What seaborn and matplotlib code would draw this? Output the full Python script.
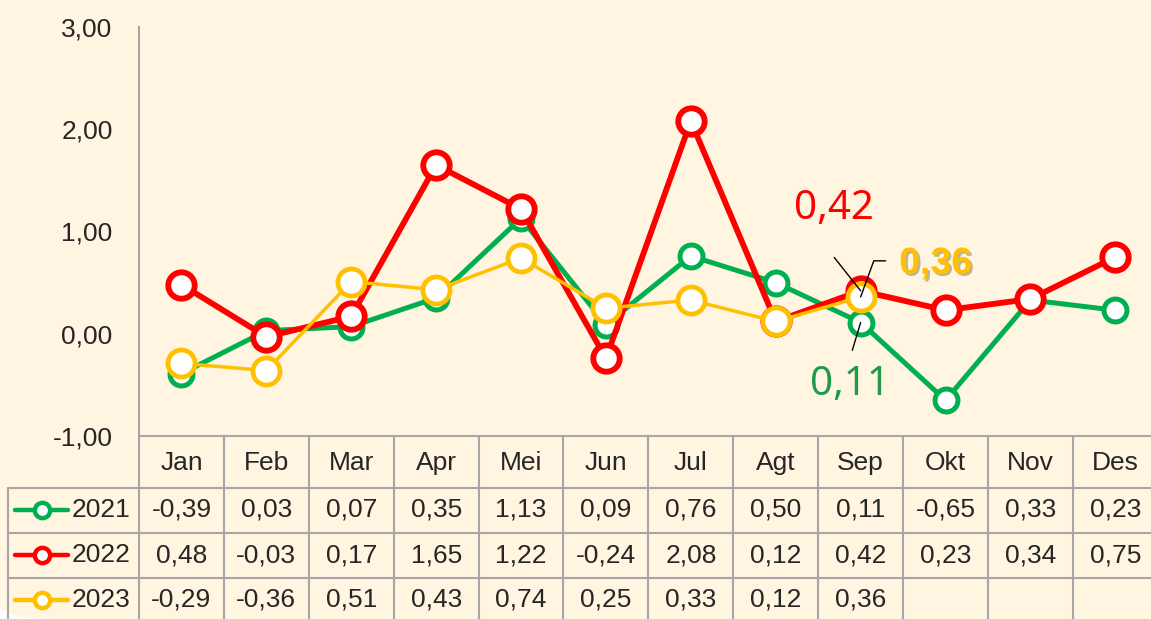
import numpy as np
import pandas as pd
import matplotlib
matplotlib.use('Agg')
import matplotlib.pyplot as plt
import matplotlib.patheffects as pe
from matplotlib.patches import FancyBboxPatch
import seaborn as sns

# data
months = ['Jan', 'Feb', 'Mar', 'Apr', 'Mei', 'Jun', 'Jul', 'Agt', 'Sep', 'Okt', 'Nov', 'Des']
years = ['2021', '2022', '2023']
y2021 = [-0.39, 0.03, 0.07, 0.35, 1.13, 0.09, 0.76, 0.50, 0.11, -0.65, 0.33, 0.23]
y2022 = [0.48, -0.03, 0.17, 1.65, 1.22, -0.24, 2.08, 0.12, 0.42, 0.23, 0.34, 0.75]
y2023 = [-0.29, -0.36, 0.51, 0.43, 0.74, 0.25, 0.33, 0.12, 0.36, np.nan, np.nan, np.nan]
yticks = [-1, 0, 1, 2, 3]

colors = {'2021': '#00B050', '2022': '#FF0000', '2023': '#FFC000'}
styles = {'2021': dict(lw=3.6, ms=16.5, mew=3.6),
          '2022': dict(lw=4.2, ms=19.0, mew=4.2),
          '2023': dict(lw=2.5, ms=19.5, mew=3.4)}

df = pd.DataFrame({'bulan': months, '2021': y2021, '2022': y2022, '2023': y2023})
df['idx'] = np.arange(len(months))

bg = '#FFF5E1'
grid_col = '#A6A6A6'

sns.set_style('white')
plt.rcParams['font.family'] = ['Liberation Sans', 'DejaVu Sans']


def fmt(v):
    return f'{v:.2f}'.replace('.', ',')


W, H = 1151, 619
fig = plt.figure(figsize=(W / 100, H / 100), dpi=100)
fig.patch.set_facecolor('white')
fig.patches.append(FancyBboxPatch((0.012, 0.02), 1.2, 1.2, boxstyle='round,pad=0.02,rounding_size=0.05',
                                  transform=fig.transFigure, facecolor=bg, edgecolor='none', zorder=-10))

# main plot area (pixel geometry of reference)
left_px, right_px, top_px, bot_px = 139, 1151, 27, 436
xmax = 11.42
ax = fig.add_axes([left_px / W, (H - bot_px) / H, (right_px - left_px) / W, (bot_px - top_px) / H])
ax.set_facecolor('none')

for yr in years:
    st = styles[yr]
    sns.lineplot(data=df, x='idx', y=yr, ax=ax, color=colors[yr], linewidth=st['lw'],
                 marker='o', markersize=st['ms'], markerfacecolor='white',
                 markeredgecolor=colors[yr], markeredgewidth=st['mew'], sort=False)

ax.set_xlim(-0.5, xmax)
ax.set_ylim(-1, 3)
ax.set_yticks(yticks)
ax.set_yticklabels([fmt(v) for v in yticks], fontsize=19)
ax.tick_params(axis='y', length=0, pad=19)
ax.set_xticks([])
ax.set_xlabel('')
ax.set_ylabel('')
for s in ['top', 'right']:
    ax.spines[s].set_visible(False)
for s in ['left', 'bottom']:
    ax.spines[s].set_color(grid_col)
    ax.spines[s].set_linewidth(1.5)

# data labels for September
sep = months.index('Sep')
line_kw = dict(arrowstyle='-', color='black', lw=1, shrinkA=0, shrinkB=0)
ax.annotate('', xy=(sep, y2022[sep]), xytext=(-19, 24), textcoords='offset points', arrowprops=line_kw)
ax.annotate(fmt(y2022[sep]), xy=(sep, y2022[sep]), xytext=(-19, 59), textcoords='offset points',
            ha='center', va='center', fontsize=29, color='#FF0000', family='Noto Sans')
ax.annotate('', xy=(sep, y2023[sep]), xytext=(18, 26), textcoords='offset points',
            arrowprops=dict(line_kw, connectionstyle='angle,angleA=0,angleB=70,rad=0'))
ax.annotate(fmt(y2023[sep]), xy=(sep, y2023[sep]), xytext=(54, 24), textcoords='offset points',
            ha='center', va='center', fontsize=27, fontweight='bold', color='#FFC000',
            path_effects=[pe.SimplePatchShadow(offset=(1.5, -1.5), alpha=0.35), pe.Normal()])
ax.annotate('', xy=(sep, y2021[sep]), xytext=(-6, -20), textcoords='offset points', arrowprops=line_kw)
ax.annotate(fmt(y2021[sep]), xy=(sep, y2021[sep]), xytext=(-8, -45), textcoords='offset points',
            ha='center', va='center', fontsize=29, color='#1E9A48', family='Noto Sans')

# data table below the plot
unit = (right_px - left_px) / (xmax + 0.5)
x0 = -0.5 - left_px / unit
x1 = xmax
tab = fig.add_axes([0, 0, 1, (H - bot_px) / H])
tab.set_xlim(x0, x1)
tab.set_ylim(H, bot_px)
tab.axis('off')

row_edges = [488, 533, 578]
row_mid = [510, 555, 600]
tab_left = x0 + 8 / unit
for yy in row_edges:
    tab.plot([tab_left, x1], [yy, yy], color=grid_col, lw=1.5, clip_on=False)
tab.plot([tab_left, tab_left], [row_edges[0], H], color=grid_col, lw=1.5)
for i in range(len(months)):
    tab.plot([i + 0.5, i + 0.5], [bot_px, H], color=grid_col, lw=1.5)
tab.plot([-0.5, -0.5], [bot_px, H], color=grid_col, lw=1.5)

for i, m in enumerate(months):
    tab.text(i, 463, m, ha='center', va='center', fontsize=19)
for r, yr in enumerate(years):
    for i, v in enumerate(df[yr]):
        if not np.isnan(v):
            tab.text(i, row_mid[r], fmt(v), ha='center', va='center', fontsize=19)
    st = styles[yr]
    kx0, kx1, kxm = x0 + 15 / unit, x0 + 68 / unit, x0 + 42 / unit
    tab.plot([kx0, kx1], [row_mid[r], row_mid[r]], color=colors[yr], lw=3.2, solid_capstyle='round')
    tab.plot([kxm], [row_mid[r]], marker='o', ms=11, mfc='white', mec=colors[yr], mew=3.2)
    tab.text(x0 + 72 / unit, row_mid[r], yr, ha='left', va='center', fontsize=19)

fig.savefig('out.png', dpi=100, facecolor=fig.get_facecolor())
